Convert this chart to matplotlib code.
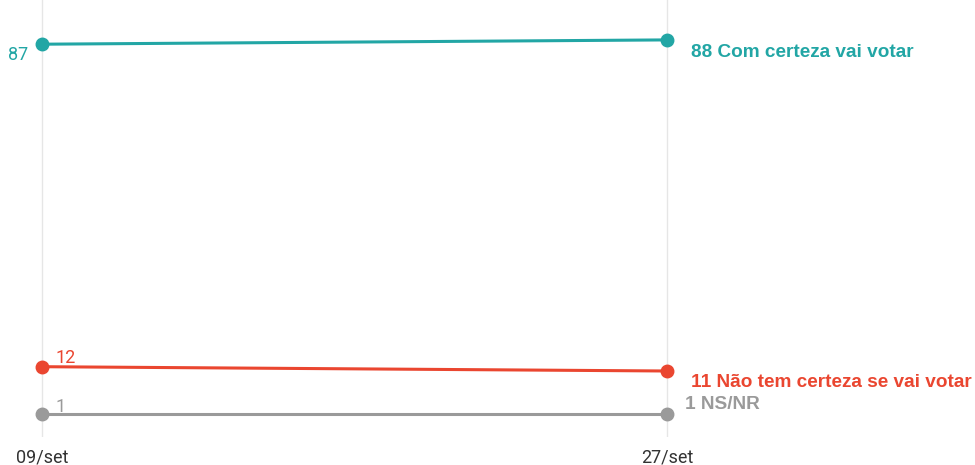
import matplotlib
matplotlib.use("Agg")
import matplotlib.pyplot as plt

# data
dates = ["09/set", "27/set"]
certeza = [87, 88]
nao_certeza = [12, 11]
ns_nr = [1, 1]
series_names = ["Com certeza vai votar", "Não tem certeza se vai votar", "NS/NR"]
colors = ["#22a6a5", "#ea4630", "#9a9a9a"]

W, H = 975, 465
fig = plt.figure(figsize=(W / 100, H / 100), dpi=100)
ax = fig.add_axes([0, 28 / H, 1, 437 / H])

px_x = 625
ax.set_xlim(-42 / px_x, (W - 42) / px_x)
px_y = 4.3
y0 = 418.3
ax.set_ylim((y0 - 437) / px_y, y0 / px_y)

x = [0, 1]
for xi in x:
    ax.axvline(xi, color="#e6e6e6", lw=1, zorder=0)

all_series = [certeza, nao_certeza, ns_nr]
for vals, col in zip(all_series, colors):
    ax.plot(x, vals, color=col, lw=2.2, marker="o", ms=9, zorder=3)

# left labels
ax.annotate(str(certeza[0]), (0, certeza[0]), xytext=(-10, -8), textcoords="offset points",
            ha="right", va="center", color=colors[0], fontsize=13, family="Roboto")
ax.annotate(str(nao_certeza[0]), (0, nao_certeza[0]), xytext=(10, 6), textcoords="offset points",
            ha="left", va="center", color=colors[1], fontsize=13, family="Roboto")
ax.annotate(str(ns_nr[0]), (0, ns_nr[0]), xytext=(10, 5), textcoords="offset points",
            ha="left", va="center", color=colors[2], fontsize=13, family="Roboto")

# right labels
offsets = [(17, -9), (17, -8.5), (13, 7)]
for vals, name, col, off in zip(all_series, series_names, colors, offsets):
    ax.annotate(f"{vals[1]} {name}", (1, vals[1]), xytext=off, textcoords="offset points",
                ha="left", va="center", color=col, fontsize=13.7, fontweight="bold",
                family="Liberation Sans")

ax.set_xticks(x)
ax.set_xticklabels(dates, family="Roboto", fontsize=13, color="#333333")
ax.tick_params(axis="x", length=0, pad=8)
ax.set_yticks([])
for s in ax.spines.values():
    s.set_visible(False)

fig.savefig("out.png", dpi=100)
